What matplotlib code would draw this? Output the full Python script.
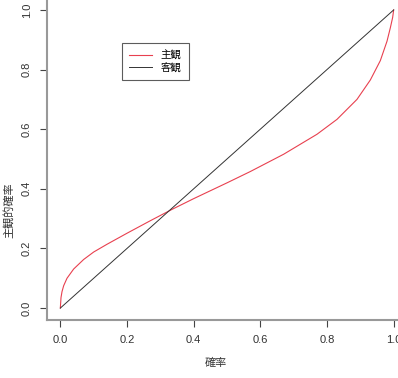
import matplotlib
matplotlib.use("Agg")
import matplotlib.pyplot as plt

plt.rcParams['font.family'] = ['Liberation Sans', 'Noto Sans CJK JP', 'DejaVu Sans']

# data
prob = [0.0, 0.002, 0.005, 0.01, 0.02, 0.04, 0.07, 0.1, 0.14, 0.2, 0.27, 0.335,
        0.4, 0.5, 0.57, 0.67, 0.77, 0.83, 0.89, 0.93, 0.96, 0.98, 0.99, 0.997, 1.0]
subjective = [0.0, 0.035, 0.055, 0.075, 0.1, 0.131, 0.163, 0.188, 0.214, 0.251, 0.293, 0.331,
              0.367, 0.42, 0.458, 0.516, 0.583, 0.633, 0.70, 0.765, 0.83, 0.895, 0.94, 0.975, 1.0]
objective_x = [0.0, 1.0]
objective_y = [0.0, 1.0]
ticks = [0.0, 0.2, 0.4, 0.6, 0.8, 1.0]
series_names = ['主観', '客観']

W, H = 398, 378
fig = plt.figure(figsize=(W / 100, H / 100), dpi=100)
ax = fig.add_axes([47 / W, 58 / H, 360 / W, 322 / H])

ax.plot(prob, subjective, color='#e8404f', lw=0.8, label=series_names[0])
ax.plot(objective_x, objective_y, color='#333333', lw=0.7, label=series_names[1])

ax.set_xlim(-0.04, 1.04)
ax.set_ylim(-0.04, 1.04)
ax.set_xticks(ticks)
ax.set_yticks(ticks)
ax.set_xticklabels([f'{t:.1f}' for t in ticks])
ax.set_yticklabels([f'{t:.1f}' for t in ticks], rotation=90, va='center')

for s in ['top', 'right']:
    ax.spines[s].set_visible(False)
for s in ['left', 'bottom']:
    ax.spines[s].set_color('#999999')
    ax.spines[s].set_linewidth(1.5)
ax.tick_params(length=5, width=0.8, color='#444444', labelsize=8,
               labelcolor='#333333', pad=6)

fig.text(216 / W, 1 - 363 / H, '確率', ha='center', va='center', fontsize=8, color='#333333')
fig.text(9 / W, 1 - 210 / H, '主観的確率', ha='center', va='center', rotation=90,
         fontsize=8, color='#333333')

leg = ax.legend(loc='upper left', bbox_to_anchor=(122 / W, 1 - 43 / H),
                bbox_transform=fig.transFigure, fancybox=False, frameon=True,
                edgecolor='#333333', fontsize=7.5, handlelength=2.2,
                borderpad=0.7, labelspacing=0.2, borderaxespad=0)
leg.get_frame().set_linewidth(0.8)

fig.savefig('out.png', dpi=100)
